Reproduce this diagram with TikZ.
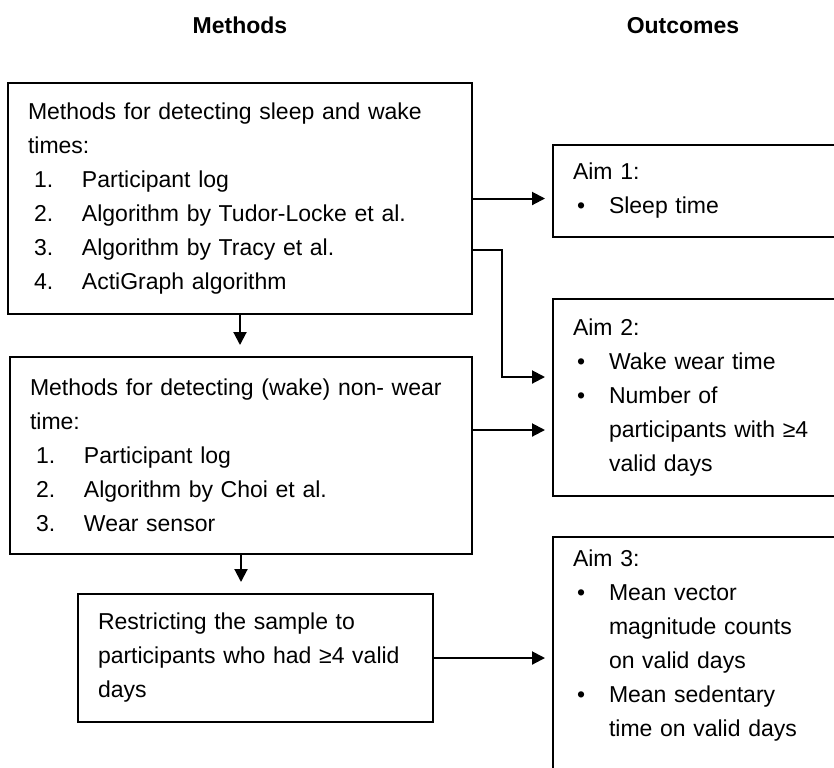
\documentclass[tikz,border=0pt]{standalone}
\usepackage{fontspec}
\setmainfont{Liberation Sans}
\usetikzlibrary{positioning}
\usetikzlibrary{arrows.meta}

\newcommand{\numitem}[2]{\hspace*{3pt}\makebox[24pt][l]{#1}#2}
\newcommand{\bulitem}[1]{\hspace*{2pt}\makebox[16pt][l]{•}#1}
\newcommand{\contitem}[1]{\hspace*{18pt}#1}

\begin{document}
\begin{tikzpicture}[x=0.5pt, y=-0.5pt,
    box/.style = {draw, line width=1pt, outer sep=0pt, inner xsep=10pt, inner ysep=0pt, align=left, font=\fontsize{11.5}{17}\selectfont},
    heading/.style = {anchor=base, font=\fontsize{11.5}{14}\selectfont\bfseries},
    flow/.style = {line width=1pt, -{Triangle[length=6.5pt, width=6.5pt]}}]
    \useasboundingbox (0,0) rectangle (834,767);
    \clip (0,0) rectangle (834,767);
    \node[heading](methods) at (240,33){Methods};
    \node[heading](outcomes) at (683,33){Outcomes};
    \node[box, anchor=north west, text width=212pt, minimum height=115.5pt](sleep) at (8,83){Methods for detecting sleep and wake\\times:\\\numitem{1.}{Participant log}\\\numitem{2.}{Algorithm by Tudor-Locke et al.}\\\numitem{3.}{Algorithm by Tracy et al.}\\\numitem{4.}{ActiGraph algorithm}};
    \node[box, below=21.5pt of sleep.south east, anchor=north east, text width=211pt, minimum height=98.5pt](nonwear){Methods for detecting (wake) non- wear\\time:\\\numitem{1.}{Participant log}\\\numitem{2.}{Algorithm by Choi et al.}\\\numitem{3.}{Wear sensor}};
    \node[box, below=20pt of nonwear.south, anchor=north, xshift=7.25pt, text width=157.5pt, minimum height=64pt](restrict){Restricting the sample to\\participants who had ≥4 valid\\days};
    \node[box, anchor=north west, text width=128.5pt, minimum height=46pt](aim1) at (553,145){Aim 1:\\\bulitem{Sleep time}};
    \node[box, below=31pt of aim1.south west, anchor=north west, text width=128.5pt, minimum height=98.5pt](aim2){Aim 2:\\\bulitem{Wake wear time}\\\bulitem{Number of}\\\contitem{participants with ≥4}\\\contitem{valid days}};
    \node[box, below=20.5pt of aim2.south west, anchor=north west, text width=128.5pt, inner ysep=6.6pt, text depth=130pt](aim3){Aim 3:\\\bulitem{Mean vector}\\\contitem{magnitude counts}\\\contitem{on valid days}\\\bulitem{Mean sedentary}\\\contitem{time on valid days}};
    \coordinate (split) at (502,250);
    \coordinate (entry) at (502,377);
    \coordinate (wearout) at ([yshift=12.75pt]nonwear.east);
    \draw[flow, shorten >=4pt] (sleep.east) -- (sleep.east -| aim1.west);
    \draw[flow, shorten >=4pt] (split -| sleep.east) -- (split) -- (entry) -- (entry -| aim2.west);
    \draw[flow, shorten >=4pt] (wearout) -- (wearout -| aim2.west);
    \draw[flow, shorten >=4pt] (restrict.east) -- (restrict.east -| aim3.west);
    \draw[flow, shorten >=6pt] (sleep.south) -- (sleep.south |- nonwear.north);
    \draw[flow, shorten >=6pt] (nonwear.south) -- (nonwear.south |- restrict.north);
\end{tikzpicture}
\end{document}
